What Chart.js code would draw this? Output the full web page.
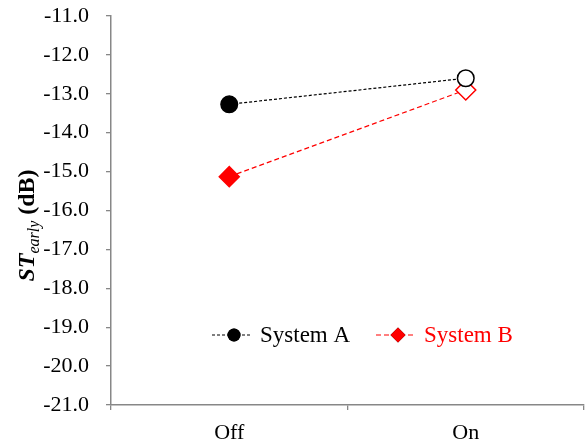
<!DOCTYPE html>
<html>
<head>
<meta charset="utf-8">
<script src="https://cdn.jsdelivr.net/npm/chart.js@4.4.1/dist/chart.umd.min.js"></script>
<style>
    html, body { margin: 0; padding: 0; background: #fff; }
    #wrap { width: 585px; height: 448px; }
</style>
</head>
<body>
<div id="wrap"><canvas id="chart"></canvas></div>
<script>
const categories = ["Off", "On"];
const systemA = [-13.27, -12.6];
const systemB = [-15.13, -12.9];
const seriesNames = ["System A", "System B"];
const yMin = -21;
const yMax = -11;
const yStep = 1;

const serif = "'Liberation Serif', 'Times New Roman', serif";
const axisGray = "#878787";

// legend + y title drawn by hand (mixed fonts, line+marker legend)
const overlay = {
    id: "overlay",
    afterDraw(chart) {
        const ctx = chart.ctx;
        const area = chart.chartArea;
        ctx.save();

        // y axis title: ST_early (dB)
        ctx.translate(34, (area.top + area.bottom) / 2 + 15);
        ctx.rotate(-Math.PI / 2);
        ctx.fillStyle = "#000";
        ctx.textBaseline = "alphabetic";
        const parts = [
            { text: "ST", font: `italic bold 24px ${serif}`, dy: 0 },
            { text: "early", font: `italic 16px ${serif}`, dy: 5 },
            { text: " (dB)", font: `bold 24px ${serif}`, dy: 0 },
        ];
        let total = 0;
        parts.forEach((p) => {
            ctx.font = p.font;
            p.w = ctx.measureText(p.text).width;
            total += p.w;
        });
        let x = -total / 2;
        parts.forEach((p) => {
            ctx.font = p.font;
            ctx.fillText(p.text, x, p.dy);
            x += p.w;
        });
        ctx.restore();

        // legend
        const items = [
            { x: 212, ds: chart.data.datasets[0], textColor: "#000", r: 6.5 },
            { x: 376, ds: chart.data.datasets[1], textColor: "#ff0000", r: 7.5 },
        ];
        const ly = 335;
        ctx.save();
        items.forEach((it) => {
            ctx.strokeStyle = it.ds.borderColor;
            ctx.lineWidth = 1.2;
            ctx.setLineDash(it.ds.borderDash);
            ctx.beginPath();
            ctx.moveTo(it.x, ly);
            ctx.lineTo(it.x + 40, ly);
            ctx.stroke();
            ctx.setLineDash([]);
            Chart.helpers.drawPoint(ctx, {
                pointStyle: it.ds.pointStyle,
                radius: it.r,
                rotation: 0,
                borderWidth: 0,
            }, it.x + 22, ly);
            ctx.fillStyle = it.ds.borderColor;
            ctx.fill();
            ctx.font = `23px ${serif}`;
            ctx.fillStyle = it.textColor;
            ctx.textBaseline = "middle";
            ctx.fillText(it.ds.label, it.x + 48, ly + 1);
        });
        ctx.restore();
    },
};

new Chart(document.getElementById("chart"), {
    type: "line",
    data: {
        labels: categories,
        datasets: [
            {
                label: seriesNames[0],
                data: systemA,
                borderColor: "#000000",
                borderWidth: 1.2,
                borderDash: [3, 2],
                pointStyle: "circle",
                pointRadius: 8.3,
                pointBorderWidth: 1.5,
                pointBorderColor: "#000000",
                pointBackgroundColor: ["#000000", "#ffffff"],
                tension: 0,
            },
            {
                label: seriesNames[1],
                data: systemB,
                borderColor: "#ff0000",
                borderWidth: 1.2,
                borderDash: [5, 3],
                pointStyle: "rectRot",
                pointRadius: 10,
                pointBorderWidth: 1.5,
                pointBorderColor: "#ff0000",
                pointBackgroundColor: ["#ff0000", "#ffffff"],
                tension: 0,
            },
        ],
    },
    options: {
        responsive: true,
        maintainAspectRatio: false,
        animation: false,
        layout: {
            autoPadding: false,
            padding: { top: 16, right: 1, left: 0, bottom: 0 },
        },
        plugins: {
            legend: { display: false },
            tooltip: { enabled: false },
        },
        scales: {
            x: {
                offset: true,
                grid: {
                    offset: true,
                    drawOnChartArea: false,
                    color: axisGray,
                    lineWidth: 1.3,
                    tickLength: 5,
                },
                border: { color: axisGray, width: 1.5 },
                ticks: {
                    color: "#000",
                    font: { family: serif, size: 22 },
                    padding: 10,
                    maxRotation: 0,
                },
                afterFit: (scale) => {
                    scale.height = 43;
                    scale.paddingLeft = 0;
                    scale.paddingRight = 0;
                },
            },
            y: {
                min: yMin,
                max: yMax,
                grid: {
                    drawOnChartArea: false,
                    color: axisGray,
                    lineWidth: 1.3,
                    tickLength: 5,
                },
                border: { color: axisGray, width: 1.5 },
                ticks: {
                    stepSize: yStep,
                    color: "#000",
                    font: { family: serif, size: 22 },
                    padding: 17,
                    callback: (value) => Number(value).toFixed(1),
                },
                afterFit: (scale) => {
                    scale.width = 111;
                    scale.paddingTop = 0;
                    scale.paddingBottom = 0;
                },
            },
        },
    },
    plugins: [overlay],
});
</script>
</body>
</html>
